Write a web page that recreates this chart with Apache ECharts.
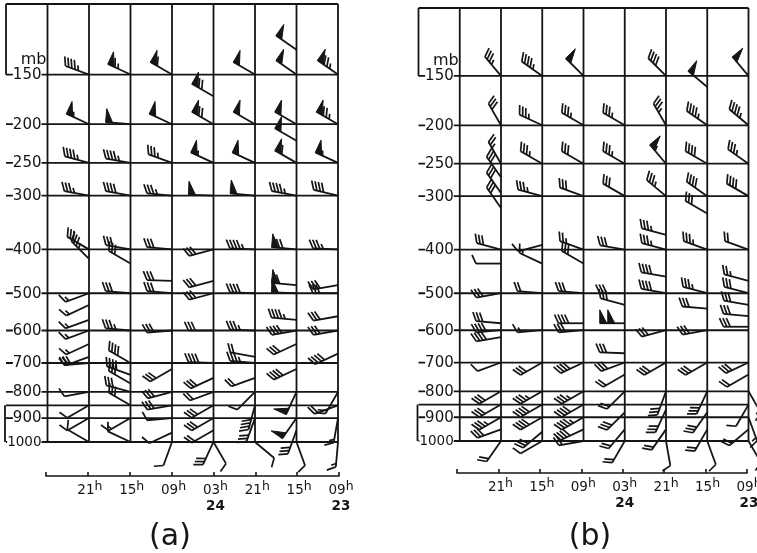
<!DOCTYPE html>
<html><head><meta charset="utf-8">
<script src="https://cdn.jsdelivr.net/npm/echarts@6/dist/echarts.min.js"></script>
<style>html,body{margin:0;padding:0;background:#fff}#c{width:757px;height:553px}</style>
</head><body><div id="c"></div>
<script>
// pressure levels (mb) and their labels
const levels = [150,200,250,300,400,500,600,700,800,850,900,1000];
const levelLabels = ['150','200','250','300','400','500','600','700','800','','900','1000'];
// time axis (hours before 09h on the 23rd, plotted right to left)
const timeTicks = [0,6,12,18,24,30,36,42];
const hourLabels = ['09','15','21','03','09','15','21',''];
const dayLabels = ['23','','','24','','','',''];

// wind observations: [pressure mb, direction deg, speed kt] per time column
// panel (a)
const a36 = [[150,290,45],[200,295,55],[250,285,45],[300,280,35],[400,300,30],[420,315,35],[500,250,15],[530,245,15],[570,250,15],[600,250,15],[640,245,15],[680,250,20],[700,265,30],[800,260,10],[850,240,10],[900,240,10],[1000,300,10]];
const a30 = [[150,295,65],[200,275,50],[250,280,45],[300,280,40],[400,280,30],[430,300,30],[500,275,30],[600,275,35],[700,300,40],[740,290,40],[770,300,30],[800,285,30],[850,300,30],[900,240,15],[1000,295,10]];
const a24 = [[150,300,60],[200,295,50],[250,290,35],[300,275,35],[400,275,30],[470,272,30],[500,275,30],[600,265,30],[720,240,30],[800,255,30],[850,260,30],[900,265,10],[960,245,10],[1000,200,10]];
const a18 = [[170,300,70],[200,300,70],[250,295,55],[300,272,50],[400,255,30],[470,255,30],[500,255,30],[600,270,30],[700,272,40],[750,245,30],[800,250,20],[850,240,30],[900,240,30],[950,240,20],[1000,205,30],[1000,150,10]];
const a12 = [[150,300,50],[200,300,50],[250,295,50],[300,275,50],[400,272,45],[500,272,40],[600,272,35],[680,280,20],[700,275,35],[750,250,20],[800,225,10],[850,195,40],[900,200,30],[1000,130,10]];
const a6 = [[130,305,50],[150,305,50],[200,300,50],[220,300,50],[250,300,60],[300,280,45],[400,275,70],[480,275,60],[500,272,50],[570,275,45],[600,260,40],[640,245,30],[720,245,40],[800,205,50],[900,215,50],[950,200,30],[1000,160,10]];
const a0 = [[150,305,75],[200,300,75],[250,295,55],[300,283,40],[400,272,35],[480,260,30],[500,270,30],[560,260,30],[600,260,30],[670,245,40],[800,210,20],[850,250,20],[900,190,15],[1000,185,15]];
// panel (b)
const b36 = [[150,320,35],[200,330,30],[250,330,25],[270,325,30],[295,325,30],[320,325,30],[400,285,30],[430,270,10],[500,260,30],[580,275,30],[600,265,40],[620,260,40],[700,250,10],[800,240,30],[850,240,30],[900,240,35],[950,250,30],[1000,215,20]];
const b30 = [[150,305,45],[200,295,35],[250,300,35],[300,285,35],[390,255,10],[430,295,15],[500,275,20],[600,265,15],[700,240,30],[800,240,35],[850,240,40],[900,240,40],[960,230,30],[1000,240,10]];
const b24 = [[150,315,50],[200,300,35],[250,300,30],[300,290,30],[400,290,25],[430,300,30],[500,275,30],[580,270,40],[600,265,30],[700,245,40],[800,240,35],[850,240,40],[900,240,45],[950,245,40],[1000,260,20]];
const b18 = [[200,300,35],[250,300,35],[300,300,30],[400,280,30],[500,270,30],[530,285,30],[580,270,100],[670,272,30],[700,250,30],[740,240,20],[800,225,20],[880,225,30],[950,220,20],[1000,210,20]];
const b12 = [[150,315,40],[200,330,35],[250,320,55],[300,310,35],[370,285,35],[400,285,35],[460,280,40],[500,280,40],[600,255,30],[700,240,30],[800,200,30],[870,205,30],[950,215,20],[1000,170,10]];
const b6 = [[160,310,50],[200,305,45],[250,300,40],[300,305,40],[330,300,30],[400,290,35],[500,285,35],[540,275,30],[600,260,30],[700,240,30],[800,205,30],[880,215,30],[950,210,20],[1000,160,10]];
const b0 = [[150,320,50],[200,310,45],[250,305,35],[300,300,40],[400,290,20],[470,285,25],[500,285,30],[530,280,30],[560,275,30],[590,270,30],[700,245,30],[740,240,20],[800,150,15],[850,210,10],[900,160,15],[950,230,20],[1000,150,10]];

const aCols = [[36,a36],[30,a30],[24,a24],[18,a18],[12,a12],[6,a6],[0,a0]];
const bCols = [[36,b36],[30,b30],[24,b24],[18,b18],[12,b12],[6,b6],[0,b0]];

const INK = '#151515';
const LW = 1.8;
const FONT = '"DejaVu Sans", sans-serif';

// standard-atmosphere height (km) of a pressure level: the vertical scale of the diagram
function hgt(p) {
  if (p >= 226.32) return 44.3308 * (1 - Math.pow(p / 1013.25, 0.190263));
  return 11 - 6.3416 * Math.log(p / 226.32);
}
function buildBarbs(cols) {
  const out = [];
  cols.forEach(([t, rows]) => rows.forEach(r => out.push([t, hgt(r[0]), r[1], r[2]])));
  return out;
}
const ln = (x1, y1, x2, y2, w) => ({type: 'line', shape: {x1, y1, x2, y2}, style: {stroke: INK, lineWidth: w || LW}});

function renderBarb(params, api) {
  const st = api.coord([api.value(0), api.value(1)]);
  const d = api.value(2) * Math.PI / 180;
  let s = Math.round(api.value(3) / 5) * 5;
  const ux = Math.sin(d), uy = -Math.cos(d);
  const vx = -uy, vy = ux;
  const L = 25, B = 9.5, G = 3.4, LEAN = 0.42;
  const tx = st[0] + ux * L, ty = st[1] + uy * L;
  const ch = [ln(st[0], st[1], tx, ty, 1.8)];
  const at = k => [tx - ux * k, ty - uy * k];
  const bx = 0.92 * vx + LEAN * ux, by = 0.92 * vy + LEAN * uy;
  let pos = 0;
  while (s >= 50) {
    const a = at(pos), b = at(pos + 7), m = at(pos + 3.5);
    const apex = [m[0] + (0.96 * vx + 0.25 * ux) * 14, m[1] + (0.96 * vy + 0.25 * uy) * 14];
    ch.push({type: 'polygon', shape: {points: [a, b, apex]}, style: {fill: INK, stroke: INK, lineWidth: 1}});
    pos += 8; s -= 50;
  }
  while (s >= 10) {
    const a = at(pos);
    ch.push(ln(a[0], a[1], a[0] + bx * B, a[1] + by * B, 1.7));
    pos += G; s -= 10;
  }
  if (s >= 5) {
    if (pos === 0) pos = G;
    const a = at(pos);
    ch.push(ln(a[0], a[1], a[0] + bx * B * 0.55, a[1] + by * B * 0.55, 1.7));
  }
  return {type: 'group', children: ch};
}

function vlineRender(ymax) {
  return (params, api) => {
    const t = api.value(0);
    const p1 = api.coord([t, ymax]), p2 = api.coord([t, hgt(1000)]);
    return ln(p1[0], p1[1], p2[0], p2[1]);
  };
}
function hlineRender(params, api) {
  const h = api.value(1), i = api.value(2);
  const p1 = api.coord([48, h]), p2 = api.coord([0, h]), q = api.coord([42, h]);
  const ch = [ln(p1[0], p1[1], p2[0], p2[1])];
  const txt = levelLabels[i];
  if (txt) {
    const fs = txt.length > 3 ? 13.5 : 15;
    ch.push({type: 'text', style: {text: txt, x: q[0] - 6, y: q[1] + 0.5, font: fs + 'px ' + FONT, fill: INK,
      textAlign: 'right', textVerticalAlign: 'middle', backgroundColor: '#fff', padding: [0, 0, 0, 0]}});
  }
  return {type: 'group', children: ch};
}
function borderRender(params, api) {
  const ymax = api.value(1);
  const tl = api.coord([48, ymax]), tr = api.coord([0, ymax]);
  const l150 = api.coord([48, hgt(150)]), l850 = api.coord([48, hgt(850)]), l1000 = api.coord([48, hgt(1000)]);
  const m = api.coord([42, hgt(150)]);
  return {type: 'group', children: [
    ln(tl[0], tl[1], tr[0], tr[1]),
    ln(tl[0], tl[1], l150[0], l150[1]),
    ln(l850[0] - 1, l850[1], l1000[0] - 1, l1000[1]),
    {type: 'text', style: {text: 'mb', x: m[0] - 1, y: m[1] - 7, font: '16px ' + FONT, fill: INK, textAlign: 'right', textVerticalAlign: 'bottom'}}
  ]};
}

function panelSeries(gi, ymax, cols) {
  return [
    {type: 'custom', xAxisIndex: gi, yAxisIndex: gi, silent: true, clip: false, renderItem: vlineRender(ymax),
      encode: {x: 0}, data: timeTicks.map(t => [t])},
    {type: 'custom', xAxisIndex: gi, yAxisIndex: gi, silent: true, clip: false, renderItem: hlineRender,
      encode: {x: 0, y: 1}, data: levels.map((p, i) => [48, hgt(p), i])},
    {type: 'custom', xAxisIndex: gi, yAxisIndex: gi, silent: true, clip: false, renderItem: borderRender,
      encode: {x: 0, y: 1}, data: [[48, ymax]]},
    {type: 'custom', xAxisIndex: gi, yAxisIndex: gi, silent: true, clip: false, renderItem: renderBarb,
      encode: {x: 0, y: 1}, data: buildBarbs(cols)}
  ];
}

function timeLabel(val) {
  const i = timeTicks.indexOf(val);
  if (i < 0 || !hourLabels[i]) return '';
  let s = '{d|' + hourLabels[i] + '}{s|h}';
  if (dayLabels[i]) s += '\n{b|' + dayLabels[i] + '}';
  return s;
}
const timeAxis = gi => ({
  gridIndex: gi, type: 'value', min: 0, max: 42, interval: 6, inverse: true, position: 'bottom',
  axisLine: {show: true, lineStyle: {color: INK, width: 1.6}},
  axisTick: {show: true, inside: true, length: 4, lineStyle: {color: INK, width: 1.6}},
  splitLine: {show: false},
  axisLabel: {show: true, margin: 4, formatter: timeLabel, padding: [0, 0, 0, 4],
    rich: {
      d: {fontSize: 13.5, fontFamily: FONT, color: INK, lineHeight: 17, verticalAlign: 'bottom'},
      s: {fontSize: 12.5, fontFamily: FONT, color: INK, lineHeight: 17, verticalAlign: 'top'},
      b: {fontSize: 13.5, fontFamily: FONT, fontWeight: 'bold', color: INK, lineHeight: 18}
    }}
});
const hiddenX = gi => ({gridIndex: gi, type: 'value', min: 0, max: 48, inverse: true, show: false});

const chart = echarts.init(document.getElementById('c'), null, {renderer: 'canvas'});
chart.setOption({
  animation: false,
  backgroundColor: '#fff',
  grid: [
    {left: 6, top: 4, width: 332, height: 441, outerBoundsMode: 'none'},
    {left: 418.5, top: 8, width: 330, height: 436, outerBoundsMode: 'none'},
    {left: 46, top: 475, width: 293, height: 1, outerBoundsMode: 'none'},
    {left: 457, top: 472, width: 290, height: 1, outerBoundsMode: 'none'}
  ],
  xAxis: [hiddenX(0), hiddenX(1), timeAxis(2), timeAxis(3)],
  yAxis: [
    {gridIndex: 0, type: 'value', min: 0, max: 16.2, show: false},
    {gridIndex: 1, type: 'value', min: 0, max: 16.12, show: false},
    {gridIndex: 2, type: 'value', min: 0, max: 1, show: false},
    {gridIndex: 3, type: 'value', min: 0, max: 1, show: false}
  ],
  graphic: [
    {type: 'text', x: 170, y: 537, style: {text: '(a)', font: '30px ' + FONT, fill: INK, textAlign: 'center', textVerticalAlign: 'middle'}},
    {type: 'text', x: 590, y: 537, style: {text: '(b)', font: '30px ' + FONT, fill: INK, textAlign: 'center', textVerticalAlign: 'middle'}}
  ],
  series: [].concat(panelSeries(0, 16.2, aCols), panelSeries(1, 16.12, bCols))
});
</script></body></html>
